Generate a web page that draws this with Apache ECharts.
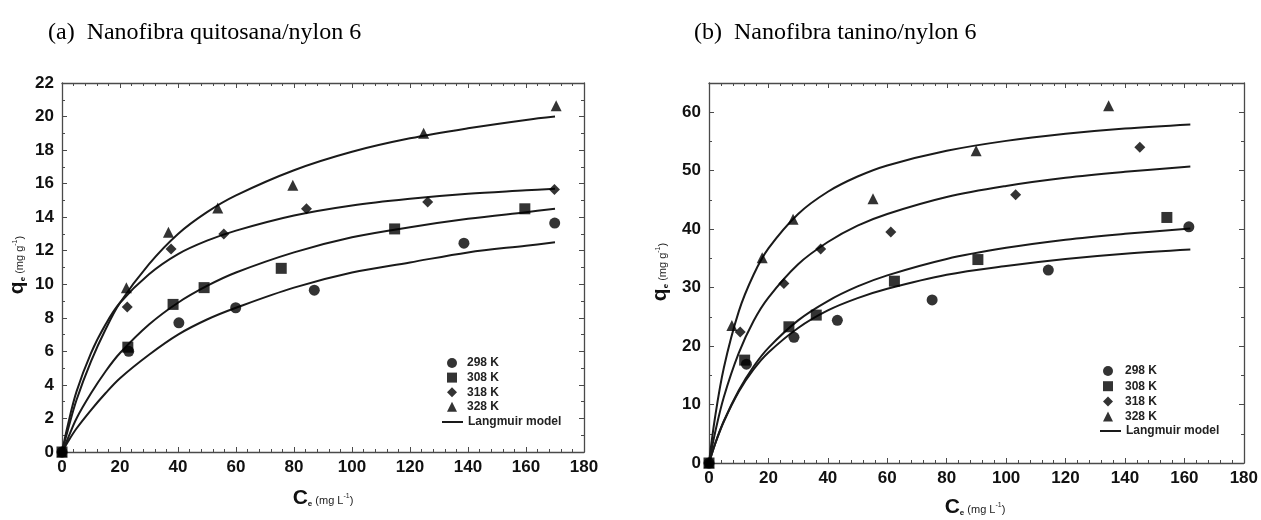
<!DOCTYPE html>
<html>
<head>
<meta charset="utf-8">
<script src="https://cdn.jsdelivr.net/npm/echarts@6/dist/echarts.min.js"></script>
<style>
html,body{margin:0;padding:0;background:#fff;}
#chart{width:1261px;height:520px;}
</style>
</head>
<body>
<div id="chart"></div>
<script>
// ---------- DATA ----------
const seriesNames = ['298 K', '308 K', '318 K', '328 K'];
const modelName = 'Langmuir model';
const titleA = '(a)  Nanofibra quitosana/nylon 6';
const titleB = '(b)  Nanofibra tanino/nylon 6';
const xTicksA = [0, 20, 40, 60, 80, 100, 120, 140, 160, 180];
const yTicksA = [0, 2, 4, 6, 8, 10, 12, 14, 16, 18, 20, 22];
const yTicksB = [0, 10, 20, 30, 40, 50, 60];

// (a) chitosan/nylon 6 : measured points [Ce, qe]
const a298 = [[0,0],[23.0,6.0],[40.3,7.7],[59.9,8.6],[87.0,9.65],[138.6,12.45],[169.9,13.65]];
const a308 = [[0,0],[22.7,6.25],[38.3,8.8],[49.0,9.8],[75.6,10.95],[114.7,13.3],[159.6,14.5]];
const a318 = [[0,0],[22.5,8.65],[37.6,12.1],[55.8,13.0],[84.3,14.5],[126.1,14.9],[169.8,15.65]];
const a328 = [[0,0],[22.2,9.8],[36.7,13.1],[53.7,14.55],[79.6,15.9],[124.7,19.0],[170.4,20.65]];
// (a) Langmuir curves
const aCurveX = [0, 2, 5, 10, 15, 20, 30, 40, 50, 60, 80, 100, 120, 140, 160, 170];
const aFit298 = [0, 0.6, 1.4, 2.5, 3.5, 4.4, 5.8, 7.0, 7.9, 8.6, 9.8, 10.7, 11.3, 11.9, 12.3, 12.5];
const aFit308 = [0, 0.8, 2.0, 3.5, 4.8, 5.9, 7.6, 8.9, 9.9, 10.7, 11.9, 12.8, 13.4, 13.9, 14.3, 14.5];
const aFit318 = [0, 1.6, 3.6, 5.9, 7.6, 8.9, 10.6, 11.8, 12.6, 13.2, 14.1, 14.7, 15.1, 15.4, 15.6, 15.7];
const aFit328 = [0, 1.3, 3.1, 5.4, 7.3, 8.9, 11.2, 13.0, 14.3, 15.3, 16.8, 17.9, 18.7, 19.3, 19.8, 20.0];

// (b) tannin/nylon 6 : measured points [Ce, qe]
const b298 = [[0,0],[12.6,16.9],[28.6,21.5],[43.2,24.4],[75.1,27.9],[114.2,33.0],[161.5,40.4]];
const b308 = [[0,0],[12.0,17.6],[26.9,23.3],[36.1,25.3],[62.4,31.1],[90.5,34.8],[154.1,42.0]];
const b318 = [[0,0],[10.5,22.4],[25.2,30.7],[37.6,36.6],[61.2,39.5],[103.2,45.9],[145.0,54.0]];
const b328 = [[0,0],[7.7,23.5],[17.9,35.1],[28.3,41.7],[55.2,45.2],[89.9,53.4],[134.5,61.1]];
// (b) Langmuir curves
const bCurveX = [0, 2, 5, 10, 15, 20, 30, 40, 50, 60, 80, 100, 120, 140, 162];
const bFit298 = [0, 3.2, 7.1, 12.2, 16.0, 18.9, 23.1, 26.1, 28.2, 29.8, 32.2, 33.7, 34.9, 35.8, 36.5];
const bFit308 = [0, 3.2, 7.2, 12.4, 16.5, 19.7, 24.4, 27.7, 30.2, 32.1, 34.9, 36.8, 38.2, 39.2, 40.1];
const bFit318 = [0, 5.1, 11.3, 18.8, 24.3, 28.3, 34.0, 37.8, 40.6, 42.6, 45.5, 47.4, 48.8, 49.8, 50.7];
const bFit328 = [0, 7.7, 16.3, 25.9, 32.2, 36.7, 42.6, 46.4, 49.0, 50.9, 53.4, 55.1, 56.3, 57.2, 57.9];

// ---------- BUILD ----------
const chart = echarts.init(document.getElementById('chart'), null, {renderer: 'canvas'});
const FONT = 'Liberation Sans, Arial, sans-serif';
const SERIF = 'Liberation Serif, Times New Roman, serif';
const AXC = '#4a4a4a';
const INK = '#111';
const symbols = ['circle', 'rect', 'diamond', 'triangle'];
const symSizes = [11, 11, 11, 11];

function zip(xs, ys) { return xs.map((x, i) => [x, ys[i]]); }

function axisX(gridIndex, ticks, show, pos) {
  return {
    type: 'value', gridIndex, position: pos,
    min: ticks[0], max: ticks[ticks.length - 1], interval: ticks[1] - ticks[0],
    axisLine: {show: true, onZero: false, lineStyle: {color: AXC, width: 1.3}},
    axisTick: {show: true, inside: true, length: 5, lineStyle: {color: AXC, width: 1}},
    minorTick: {show: true, splitNumber: 5, length: 3, lineStyle: {color: AXC, width: 1}},
    splitLine: {show: false},
    axisLabel: {show: show, margin: 7, color: INK, fontFamily: FONT, fontWeight: 'bold', fontSize: 17}
  };
}
function axisY(gridIndex, ticks, show, pos, maxV) {
  return {
    type: 'value', gridIndex, position: pos,
    min: ticks[0], max: maxV, interval: ticks[1] - ticks[0],
    axisLine: {show: true, onZero: false, lineStyle: {color: AXC, width: 1.3}},
    axisTick: {show: true, inside: true, length: 5, lineStyle: {color: AXC, width: 1}},
    minorTick: {show: true, splitNumber: 2, length: 3, lineStyle: {color: AXC, width: 1}},
    splitLine: {show: false},
    axisLabel: {show: show, margin: 8, color: INK, fontFamily: FONT, fontWeight: 'bold', fontSize: 17, showMaxLabel: maxV === ticks[ticks.length - 1]}
  };
}

const series = [];
function addPanel(axisIdx, pts, curveX, fits) {
  fits.forEach((f, i) => {
    series.push({
      name: modelName, type: 'line', xAxisIndex: axisIdx, yAxisIndex: axisIdx,
      data: zip(curveX, f), smooth: 0.35, symbol: 'none', z: 2,
      lineStyle: {color: '#1a1a1a', width: 2}, itemStyle: {color: '#1a1a1a'}
    });
  });
  pts.forEach((p, i) => {
    series.push({
      name: seriesNames[i], type: 'scatter', xAxisIndex: axisIdx, yAxisIndex: axisIdx,
      data: p, symbol: symbols[i], symbolSize: symSizes[i], symbolKeepAspect: true,
      z: i === 1 ? 5 : 4, itemStyle: {color: '#000'}
    });
  });
}
addPanel(0, [a298, a308, a318, a328], aCurveX, [aFit298, aFit308, aFit318, aFit328]);
addPanel(2, [b298, b308, b318, b328], bCurveX, [bFit298, bFit308, bFit318, bFit328]);

const legendText = {color: '#222', fontFamily: FONT, fontWeight: 'bold', fontSize: 12};
function markerLegend(left, top, gap, padLeft) {
  return {
    orient: 'vertical', left, top, padding: 0, itemWidth: 10, itemHeight: 10, itemGap: gap,
    selectedMode: false,
    data: seriesNames.map((n, i) => ({name: n, icon: symbols[i]})),
    formatter: n => '{t|' + n + '}',
    textStyle: Object.assign({rich: {t: Object.assign({padding: [0, 0, 0, padLeft]}, legendText)}}, legendText)
  };
}
function lineLegend(left, top) {
  return {
    orient: 'vertical', left, top, padding: 0, itemWidth: 21, itemHeight: 2, itemGap: 0,
    selectedMode: false,
    data: [{name: modelName, icon: 'rect'}],
    textStyle: legendText
  };
}

function subTitle(x, y, main, unit, rot) {
  return {
    type: 'text', x, y, rotation: rot, z: 10,
    style: {
      text: '{m|' + main + '}{s|e}{u| (mg ' + unit + '}{p|-1}{u|)}',
      align: 'center', verticalAlign: 'middle',
      rich: {
        m: {fontFamily: FONT, fontWeight: 'bold', fontSize: 21, fill: INK, verticalAlign: 'bottom'},
        s: {fontFamily: FONT, fontWeight: 'bold', fontSize: 8, fill: INK, verticalAlign: 'bottom', padding: [0,0,1,0]},
        u: {fontFamily: FONT, fontSize: 11, fill: '#222', verticalAlign: 'bottom', padding: [0,0,2,0]},
        p: {fontFamily: FONT, fontSize: 7, fill: '#222', verticalAlign: 'bottom', padding: [0,0,9,0]}
      }
    }
  };
}

const option = {
  animation: false,
  backgroundColor: '#fff',
  grid: [
    {left: 62, top: 83, width: 522, height: 369, show: false},
    {left: 62, top: 83, width: 522, height: 369, show: false},
    {left: 709, top: 83, width: 535, height: 380, show: false},
    {left: 709, top: 83, width: 535, height: 380, show: false}
  ],
  xAxis: [
    axisX(0, xTicksA, true, 'bottom'),
    axisX(1, xTicksA, false, 'top'),
    axisX(2, xTicksA, true, 'bottom'),
    axisX(3, xTicksA, false, 'top')
  ],
  yAxis: [
    axisY(0, yTicksA, true, 'left', 22),
    axisY(1, yTicksA, false, 'right', 22),
    axisY(2, yTicksB, true, 'left', 65),
    axisY(3, yTicksB, false, 'right', 65)
  ],
  legend: [
    markerLegend(447, 357, 2.6, 5),
    lineLegend(442, 416),
    markerLegend(1103, 365, 3.2, 7),
    lineLegend(1100, 425)
  ],
  series,
  graphic: [
    {type: 'text', x: 48, y: 33, z: 10, style: {text: titleA, font: '24px ' + SERIF, fill: '#000', align: 'left', verticalAlign: 'middle'}},
    {type: 'text', x: 694, y: 33, z: 10, style: {text: titleB, font: '24px ' + SERIF, fill: '#000', align: 'left', verticalAlign: 'middle'}},
    subTitle(323, 498, 'C', 'L', 0),
    subTitle(975, 507, 'C', 'L', 0),
    subTitle(17, 265, 'q', 'g', Math.PI / 2),
    subTitle(660, 272, 'q', 'g', Math.PI / 2)
  ]
};
chart.setOption(option);
</script>
</body>
</html>
